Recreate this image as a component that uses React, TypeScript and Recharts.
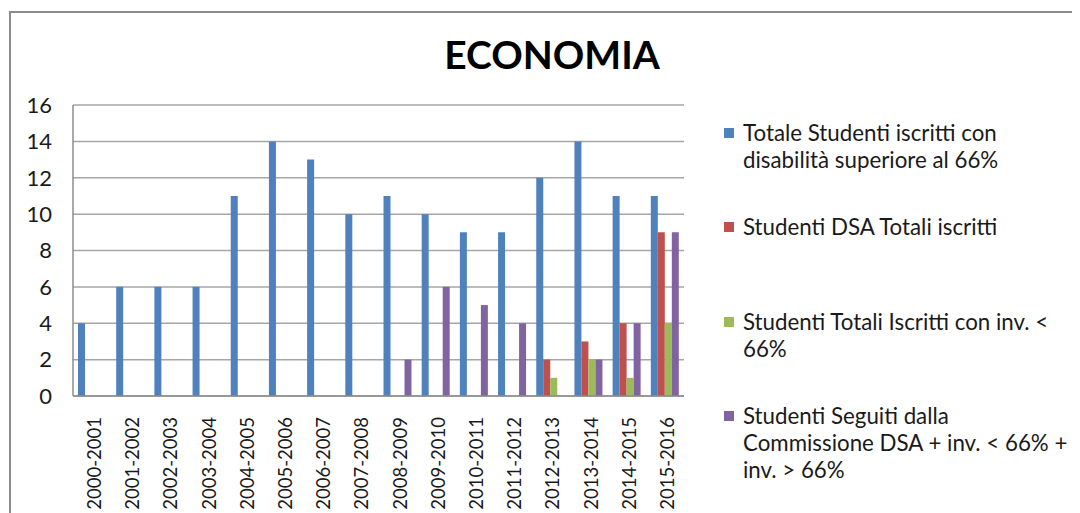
import React from 'react';
import { BarChart, Bar, XAxis, YAxis, CartesianGrid, Legend } from 'recharts';

const categories = [
  '2000-2001', '2001-2002', '2002-2003', '2003-2004', '2004-2005', '2005-2006',
  '2006-2007', '2007-2008', '2008-2009', '2009-2010', '2010-2011', '2011-2012',
  '2012-2013', '2013-2014', '2014-2015', '2015-2016',
];

const totaleDisabilita = [4, 6, 6, 6, 11, 14, 13, 10, 11, 10, 9, 9, 12, 14, 11, 11];
const dsaTotali = [null, null, null, null, null, null, null, null, null, null, null, null, 2, 3, 4, 9];
const invMinore = [null, null, null, null, null, null, null, null, null, null, null, null, 1, 2, 1, 4];
const seguitiCommissione = [null, null, null, null, null, null, null, null, 2, 6, 5, 4, null, 2, 4, 9];

const yTicks = [0, 2, 4, 6, 8, 10, 12, 14, 16];

const seriesNames = [
  'Totale Studenti iscritti con\ndisabilità superiore al 66%',
  'Studenti DSA Totali iscritti',
  'Studenti Totali Iscritti con inv. <\n66%',
  'Studenti Seguiti dalla\nCommissione DSA + inv. < 66% +\ninv. > 66%',
];

const colors = ['#4F81BD', '#C0504D', '#9BBB59', '#8064A2'];

const data = categories.map((c, i) => ({
  name: c,
  s1: totaleDisabilita[i],
  s2: dsaTotali[i],
  s3: invMinore[i],
  s4: seguitiCommissione[i],
}));

const FONT = 'Lato, "Open Sans", sans-serif';

const XTick = (props: any) => {
  const { x, y, payload } = props;
  return (
    <g transform={`translate(${x + 2},${y + 13})`}>
      <text
        transform="rotate(-90)"
        textAnchor="end"
        dominantBaseline="central"
        fontFamily={FONT}
        fontSize={18.5}
        fill="#1a1a1a"
      >
        {payload.value}
      </text>
    </g>
  );
};

const LegendContent = (props: any) => {
  const { payload } = props;
  const items = [...(payload || [])].sort((a: any, b: any) =>
    String(a.dataKey).localeCompare(String(b.dataKey))
  );
  return (
    <div style={{ position: 'relative', width: 350, height: 390, fontFamily: FONT }}>
      {items.map((entry: any, i: number) => (
        <div
          key={i}
          style={{ position: 'absolute', left: 0, top: i * 94.3, display: 'flex', alignItems: 'flex-start' }}
        >
          <div
            style={{ width: 10, height: 10, background: entry.color, marginTop: 9, marginRight: 9, flex: 'none' }}
          />
          <div
            style={{ whiteSpace: 'pre', fontSize: 22.3, lineHeight: '27px', color: '#1a1a1a' }}
          >
            {entry.value}
          </div>
        </div>
      ))}
    </div>
  );
};

export default function App() {
  return (
    <div style={{ position: 'relative', width: 1072, height: 505, overflow: 'hidden', background: '#fff' }}>
      <div
        style={{
          position: 'absolute', left: 1, top: 3, width: 1200, height: 700,
          border: '2px solid #8c8c8c', boxSizing: 'border-box',
        }}
      />
      <div
        style={{
          position: 'absolute', left: 0, width: 1088, top: 23, textAlign: 'center',
          fontFamily: FONT, fontWeight: 700, fontSize: 39, color: '#000', lineHeight: '46px',
        }}
      >
        ECONOMIA
      </div>
      <div style={{ position: 'absolute', left: 0, top: 0 }}>
        <BarChart
          width={1072}
          height={505}
          data={data}
          margin={{ top: 97, right: 396, left: 25, bottom: 7 }}
          barGap={0}
          barSize={7}
        >
          <CartesianGrid vertical={false} stroke="#a6a6a6" strokeWidth={1.5} />
          <XAxis
            dataKey="name"
            height={110}
            interval={0}
            tickLine={false}
            axisLine={{ stroke: '#8c8c8c', strokeWidth: 1.5 }}
            tick={<XTick />}
          />
          <YAxis
            width={40}
            domain={[0, 16]}
            ticks={yTicks}
            interval={0}
            tickLine={false}
            tickSize={0}
            tickMargin={21}
            axisLine={{ stroke: '#8c8c8c', strokeWidth: 1.5 }}
            tick={{ fontFamily: FONT, fontSize: 22, fill: '#1a1a1a' }}
          />
          <Legend
            layout="vertical"
            align="center"
            verticalAlign="middle"
            itemSorter="dataKey"
            wrapperStyle={{ left: 716, top: 111, width: 350 }}
            content={<LegendContent />}
          />
          <Bar dataKey="s1" name={seriesNames[0]} fill={colors[0]} isAnimationActive={false} />
          <Bar dataKey="s2" name={seriesNames[1]} fill={colors[1]} isAnimationActive={false} />
          <Bar dataKey="s3" name={seriesNames[2]} fill={colors[2]} isAnimationActive={false} />
          <Bar dataKey="s4" name={seriesNames[3]} fill={colors[3]} isAnimationActive={false} />
        </BarChart>
      </div>
    </div>
  );
}
